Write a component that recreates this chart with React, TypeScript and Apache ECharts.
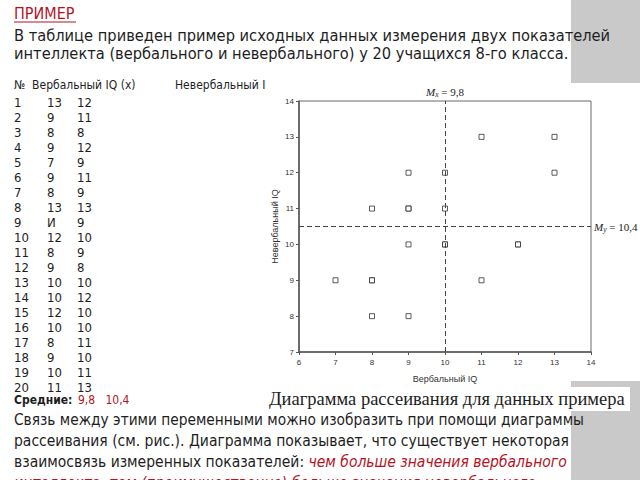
import React, { useEffect, useRef } from "react";
import * as echarts from "echarts";

const studentNo = [1, 2, 3, 4, 5, 6, 7, 8, 9, 10, 11, 12, 13, 14, 15, 16, 17, 18, 19, 20];
const verbalIQ = [13, 9, 8, 9, 7, 9, 8, 13, 11, 12, 8, 9, 10, 10, 12, 10, 8, 9, 10, 11];
const nonverbalIQ = [12, 11, 8, 12, 9, 11, 9, 13, 9, 10, 9, 8, 10, 12, 10, 10, 11, 10, 11, 13];
const verbalShown = ["13", "9", "8", "9", "7", "9", "8", "13", "И", "12", "8", "9", "10", "10", "12", "10", "8", "9", "10", "11"];
const meanLabels = ["9,8", "10,4"];
const meanLinePos = [10, 10.5];
const xTicks = [6, 14, 1];
const yTicks = [7, 14, 1];

const SANS = '"DejaVu Sans Condensed", "DejaVu Sans", sans-serif';
const SERIF = '"Liberation Serif", "DejaVu Serif", serif';
const RED = "#b3141f";
const INK = "#1e1e1e";

export default function App() {
  const ref = useRef<HTMLDivElement>(null);
  useEffect(() => {
    if (!ref.current) return;
    const chart = echarts.init(ref.current, null, { renderer: "svg" });
    const points = verbalIQ.map((v, i) => [v, nonverbalIQ[i]]);

    const graphics: any[] = [
      { type: "rect", z: -20, silent: true, shape: { x: 571, y: 0, width: 69, height: 480 }, style: { fill: "#c9c9c9" } },
      { type: "rect", z: -19, silent: true, shape: { x: 280, y: 83, width: 360, height: 298 }, style: { fill: "#ffffff" } },
      { type: "text", x: 14, y: 13, style: { text: "ПРИМЕР", font: `16px ${SANS}`, fill: RED, textVerticalAlign: "middle" } },
      { type: "line", shape: { x1: 14, y1: 22, x2: 76, y2: 22 }, style: { stroke: RED, lineWidth: 1 } },
      { type: "text", x: 14, y: 35, style: { text: "В таблице приведен пример исходных данных измерения двух показателей", font: `16.3px ${SANS}`, fill: INK, textVerticalAlign: "middle" } },
      { type: "text", x: 14, y: 53, style: { text: "интеллекта (вербального и невербального) у 20 учащихся 8-го класса.", font: `16.3px ${SANS}`, fill: INK, textVerticalAlign: "middle" } },
      { type: "text", x: 14, y: 85, style: { text: "№  Вербальный IQ (x)", font: `12px ${SANS}`, fill: INK, textVerticalAlign: "middle" } },
      { type: "text", x: 175, y: 85, style: { text: "Невербальный I", font: `12px ${SANS}`, fill: INK, textVerticalAlign: "middle" } },
      { type: "text", x: 14, y: 400, style: { text: "Средние:", font: `bold 12px ${SANS}`, fill: INK, textVerticalAlign: "middle" } },
      { type: "text", x: 78, y: 400, style: { text: meanLabels[0] + "   " + meanLabels[1], font: `12px ${SANS}`, fill: RED, textVerticalAlign: "middle" } },
      { type: "rect", shape: { x: 266, y: 387, width: 364, height: 24 }, style: { fill: "#ffffff" } },
      { type: "text", x: 269, y: 399, style: { text: "Диаграмма рассеивания для данных примера", font: `18.5px ${SERIF}`, fill: INK, textVerticalAlign: "middle" } },
      { type: "text", x: 14, y: 420, style: { text: "Связь между этими переменными можно изобразить при помощи диаграммы", font: `15.3px ${SANS}`, fill: INK, textVerticalAlign: "middle" } },
      { type: "text", x: 14, y: 441, style: { text: "рассеивания (см. рис.). Диаграмма показывает, что существует некоторая", font: `15.5px ${SANS}`, fill: INK, textVerticalAlign: "middle" } },
      { type: "text", x: 14, y: 462, style: {
        text: "{a|взаимосвязь измеренных показателей: }{b|чем больше значения вербального}",
        rich: {
          a: { font: `15.5px ${SANS}`, fill: INK },
          b: { font: `italic 15.5px ${SANS}`, fill: RED },
        },
        textVerticalAlign: "middle",
      } },
      { type: "text", x: 14, y: 483, style: { text: "интеллекта, тем (преимущественно) больше значения невербального", font: `italic 15.5px ${SANS}`, fill: RED, textVerticalAlign: "middle" } },
    ];

    studentNo.forEach((n, i) => {
      const y = 102 + i * 15;
      graphics.push({ type: "text", x: 14, y, style: { text: String(n), font: `13px ${SANS}`, fill: INK, textVerticalAlign: "middle" } });
      graphics.push({ type: "text", x: 47, y, style: { text: verbalShown[i], font: `13px ${SANS}`, fill: INK, textVerticalAlign: "middle" } });
      graphics.push({ type: "text", x: 77, y, style: { text: String(nonverbalIQ[i]), font: `13px ${SANS}`, fill: INK, textVerticalAlign: "middle" } });
    });

    const labelRich = {
      i: { fontFamily: SERIF, fontStyle: "italic", fontSize: 11, color: "#222" },
      s: { fontFamily: SERIF, fontStyle: "italic", fontSize: 7.5, color: "#222", verticalAlign: "bottom", padding: [5, 0, 0, 0] },
      n: { fontFamily: SERIF, fontSize: 11, color: "#222" },
    };

    chart.setOption({
      animation: false,
      backgroundColor: "#ffffff",
      grid: { left: 299, right: 49, top: 101, bottom: 128, show: true, borderColor: "#6a6a6a", borderWidth: 1, backgroundColor: "transparent" },
      xAxis: {
        type: "value", min: xTicks[0], max: xTicks[1], interval: xTicks[2],
        name: "Вербальный IQ", nameLocation: "middle", nameGap: 22,
        nameTextStyle: { fontSize: 9, color: "#333", fontFamily: "Liberation Sans, Arial, sans-serif" },
        axisLine: { show: true, lineStyle: { color: "#555", width: 1.5 } },
        axisTick: { show: true, length: 3, lineStyle: { color: "#555" } },
        axisLabel: { fontSize: 8, color: "#333", margin: 6, fontFamily: "Liberation Sans, Arial, sans-serif" },
        splitLine: { show: false },
      },
      yAxis: {
        type: "value", min: yTicks[0], max: yTicks[1], interval: yTicks[2],
        name: "Невербальный IQ", nameLocation: "middle", nameGap: 20, nameRotate: 90,
        nameTextStyle: { fontSize: 9, color: "#333", fontFamily: "Liberation Sans, Arial, sans-serif" },
        axisLine: { show: true, lineStyle: { color: "#555", width: 1.5 } },
        axisTick: { show: true, length: 3, lineStyle: { color: "#555" } },
        axisLabel: { fontSize: 8, color: "#333", margin: 5, fontFamily: "Liberation Sans, Arial, sans-serif" },
        splitLine: { show: false },
      },
      series: [
        {
          type: "scatter",
          data: points,
          symbol: "rect",
          symbolSize: 5,
          itemStyle: { color: "#ffffff", borderColor: "#333", borderWidth: 1 },
          markLine: {
            silent: true,
            symbol: ["none", "none"],
            lineStyle: { type: [5, 3], color: "#444", width: 1 },
            data: [
              {
                xAxis: meanLinePos[0],
                label: {
                  show: true, position: "end", distance: 3,
                  formatter: "{i|M}{s|x}{n| = " + meanLabels[0] + "}",
                  rich: labelRich,
                },
              },
              {
                yAxis: meanLinePos[1],
                label: {
                  show: true, position: "end", distance: 3,
                  formatter: "{i|M}{s|y}{n| = " + meanLabels[1] + "}",
                  rich: labelRich,
                },
              },
            ],
          },
        },
      ],
      graphic: graphics,
    });
    return () => chart.dispose();
  }, []);
  return <div ref={ref} style={{ width: 640, height: 480, position: "absolute", left: 0, top: 0 }} />;
}
